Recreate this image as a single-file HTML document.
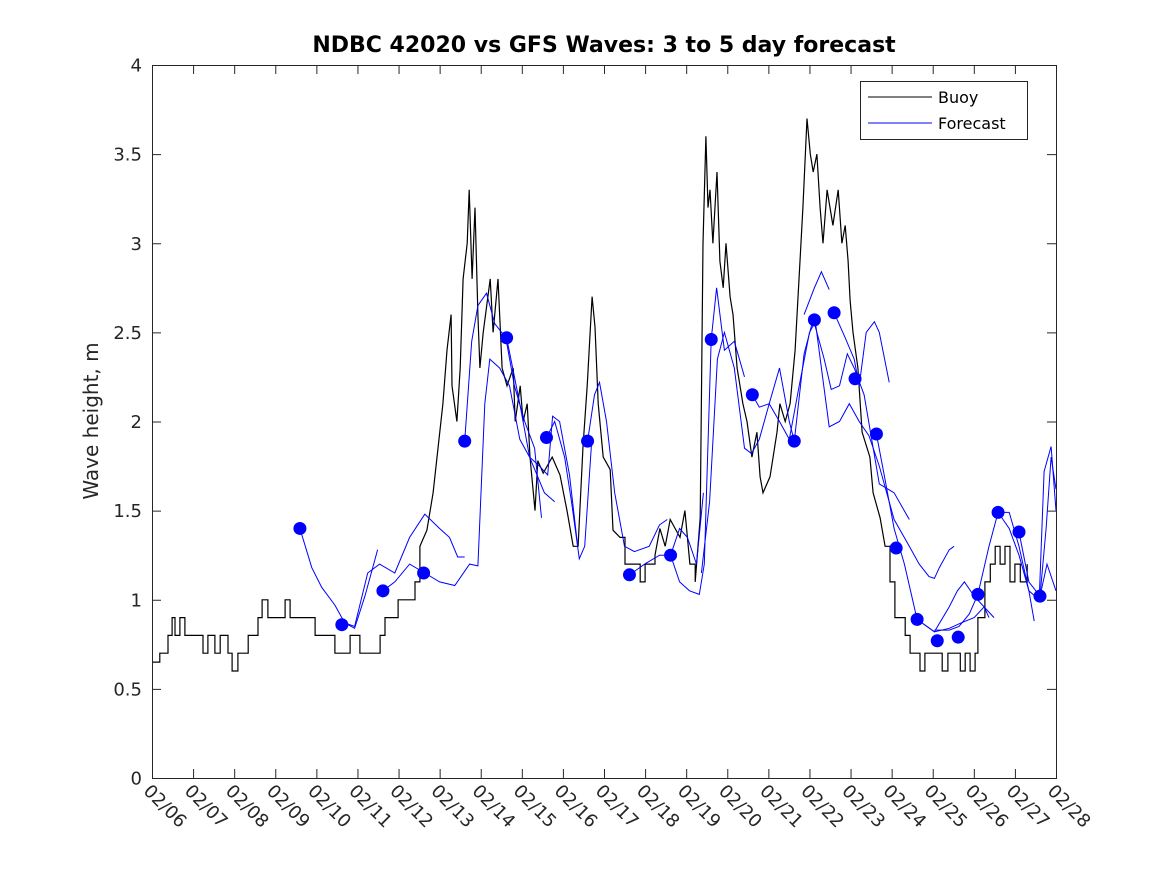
<!DOCTYPE html>
<html><head><meta charset="utf-8"><style>
html,body{margin:0;padding:0;background:#fff;}
svg{display:block;font-family:"DejaVu Sans","Liberation Sans",sans-serif;}
</style></head><body>
<svg id="chart" width="1167" height="875" viewBox="0 0 1167 875">
<defs><clipPath id="plotclip"><rect x="152" y="65" width="904" height="713"/></clipPath></defs>
<rect x="0" y="0" width="1167" height="875" fill="#fff"/>
<g id="series" clip-path="url(#plotclip)"></g>
<g id="markers"></g>
<g id="axes"></g>
<text x="604" y="52" text-anchor="middle" font-size="22" font-weight="bold" fill="#000">NDBC 42020 vs GFS Waves: 3 to 5 day forecast</text>
<text transform="translate(98,421) rotate(-90)" text-anchor="middle" font-size="20" fill="#262626">Wave height, m</text>
<g>
<rect x="860.5" y="81.5" width="167" height="58" fill="#fff" stroke="#262626" stroke-width="1"/>
<line x1="868" y1="97" x2="932" y2="97" stroke="#000"/>
<text x="938" y="103" font-size="16" fill="#000">Buoy</text>
<line x1="868" y1="123" x2="932" y2="123" stroke="#00f"/>
<text x="938" y="129" font-size="16" fill="#000">Forecast</text>
</g>
</svg>
<script>
const xTickLabels = ["02/06","02/07","02/08","02/09","02/10","02/11","02/12","02/13","02/14","02/15","02/16","02/17","02/18","02/19","02/20","02/21","02/22","02/23","02/24","02/25","02/26","02/27","02/28"];
const yTicks = [0,0.5,1,1.5,2,2.5,3,3.5,4];
const yTickLabels = ["0","0.5","1","1.5","2","2.5","3","3.5","4"];
const buoyDays = [0,0.19,0.19,0.32,0.39,0.49,0.56,0.68,0.80,1.17,1.24,1.36,1.53,1.66,1.85,1.95,2.09,2.26,2.34,2.58,2.68,2.82,3.24,3.36,3.85,3.97,4.33,4.45,4.70,4.82,5.06,5.43,5.55,5.67,5.84,5.99,6.28,6.40,6.52,6.69,6.84,7.08,7.18,7.28,7.30,7.42,7.50,7.57,7.67,7.72,7.79,7.86,7.93,7.98,8.06,8.23,8.30,8.42,8.52,8.64,8.79,8.84,8.96,9.03,9.13,9.20,9.32,9.39,9.52,9.74,9.93,10.10,10.25,10.37,10.49,10.59,10.71,10.78,10.86,10.98,11.15,11.22,11.39,11.51,11.75,11.88,12.00,12.24,12.36,12.49,12.61,12.85,12.97,13.09,13.22,13.34,13.41,13.48,13.53,13.58,13.65,13.75,13.82,13.90,13.97,14.07,14.14,14.24,14.31,14.38,14.48,14.60,14.72,14.80,14.87,15.04,15.21,15.28,15.41,15.53,15.65,15.77,15.84,15.94,16.02,16.09,16.18,16.26,16.33,16.43,16.50,16.57,16.70,16.79,16.87,16.94,16.99,17.06,17.18,17.28,17.47,17.55,17.72,17.84,17.96,18.08,18.33,18.45,18.64,18.69,18.81,19.18,19.23,19.37,19.67,19.79,19.91,20.03,20.10,20.27,20.40,20.52,20.64,20.76,20.88,21.00,21.13,21.30];
const buoyVals = [0.65,0.65,0.7,0.7,0.8,0.9,0.8,0.9,0.8,0.8,0.7,0.8,0.7,0.8,0.7,0.6,0.7,0.7,0.8,0.9,1.0,0.9,1.0,0.9,0.9,0.8,0.8,0.7,0.7,0.8,0.7,0.7,0.8,0.9,0.9,1.0,1.0,1.1,1.3,1.39,1.6,2.1,2.4,2.6,2.2,2.0,2.3,2.8,3.0,3.3,2.8,3.2,2.6,2.3,2.5,2.8,2.5,2.8,2.3,2.2,2.3,2.0,2.2,2.0,2.1,1.8,1.5,1.78,1.71,1.8,1.7,1.5,1.3,1.3,1.86,2.2,2.7,2.53,2.1,1.8,1.73,1.39,1.35,1.2,1.2,1.1,1.2,1.25,1.4,1.3,1.45,1.35,1.5,1.2,1.1,1.46,3.0,3.6,3.2,3.3,3.0,3.4,2.9,2.75,3.0,2.7,2.6,2.3,2.2,2.1,2.0,1.8,1.94,1.69,1.6,1.69,1.94,2.1,2.0,2.1,2.4,2.9,3.2,3.7,3.5,3.4,3.5,3.2,3.0,3.3,3.2,3.1,3.3,3.0,3.1,2.9,2.68,2.5,2.3,1.94,1.8,1.6,1.46,1.3,1.1,0.9,0.8,0.7,0.7,0.6,0.7,0.7,0.6,0.7,0.6,0.7,0.6,0.7,0.9,1.1,1.2,1.3,1.2,1.3,1.1,1.2,1.1,1.2];
const markerDays = [3.60,4.62,5.62,6.61,7.61,8.63,9.60,10.60,11.62,12.62,13.61,14.61,15.63,16.12,16.60,17.11,17.63,18.11,18.62,19.11,19.62,20.10,20.59,21.10,21.61];
const markerVals = [1.40,0.86,1.05,1.15,1.89,2.47,1.91,1.89,1.14,1.25,2.46,2.15,1.89,2.57,2.61,2.24,1.93,1.29,0.89,0.77,0.79,1.03,1.49,1.38,1.02];
const fcDays1=[3.60,3.89,4.13,4.45,4.69,4.93,5.18,5.49], fcVals1=[1.40,1.18,1.07,0.97,0.87,0.84,1.02,1.28];
const fcDays2=[4.69,4.93,5.25,5.54,5.91,6.27,6.64,7.00,7.24,7.44,7.61], fcVals2=[0.87,0.85,1.15,1.2,1.15,1.35,1.48,1.4,1.35,1.24,1.24];
const fcDays3=[5.62,5.91,6.27,6.64,7.00,7.37,7.73,7.93,8.10,8.22,8.46,8.70,8.95,9.19,9.55,9.80], fcVals3=[1.05,1.1,1.2,1.15,1.1,1.08,1.2,1.19,2.1,2.35,2.3,2.2,1.9,1.8,1.6,1.55];
const fcDays4=[7.61,7.78,7.93,8.14,8.34,8.61,8.82,9.07,9.31,9.48], fcVals4=[1.89,2.45,2.65,2.72,2.55,2.47,2.2,2.0,1.85,1.46];
const fcDays5=[9.60,9.80,10.04,10.21,10.40,10.53,10.70], fcVals5=[1.91,2.0,1.8,1.55,1.23,1.3,1.89];
const fcDays6=[8.63,8.95,9.19,9.43,9.63,9.75,9.92,10.16,10.36], fcVals6=[2.47,2.1,1.8,1.75,1.7,2.03,2.0,1.7,1.3];
const fcDays7=[10.60,10.77,10.89,11.06,11.26,11.50,11.74,12.10,12.35,12.54], fcVals7=[1.89,2.15,2.22,2.0,1.6,1.3,1.27,1.3,1.42,1.45];
const fcDays8=[11.62,11.99,12.35,12.62,12.84,13.03,13.25,13.42], fcVals8=[1.14,1.2,1.25,1.25,1.4,1.35,1.2,1.6];
const fcDays9=[12.62,12.84,13.08,13.32,13.44,13.61,13.74,13.93,14.17,14.42], fcVals9=[1.25,1.1,1.05,1.03,1.2,2.46,2.75,2.4,2.45,2.25];
const fcDays10=[13.37,13.57,13.76,13.93,14.17,14.42,14.59,14.78,15.02,15.27,15.51,15.63], fcVals10=[1.15,1.55,2.35,2.5,2.3,1.85,1.82,1.9,2.1,2.3,2.0,1.89];
const fcDays11=[14.61,14.78,15.02,15.27,15.51,15.75,16.00,16.12,16.36,16.53,16.73,16.92,17.09,17.33,17.70,18.06,18.43], fcVals11=[2.15,2.08,2.1,2.0,1.9,2.2,2.5,2.55,2.35,2.18,2.2,2.38,2.3,2.15,1.65,1.6,1.45];
const fcDays12=[15.63,15.87,16.12,16.29,16.48,16.73,16.97,17.21,17.45,17.70,18.06,18.43,18.67,18.91,19.04,19.16,19.40,19.52], fcVals12=[1.89,2.38,2.6,2.3,1.97,2.0,2.1,2.0,1.92,1.75,1.45,1.3,1.2,1.13,1.12,1.18,1.28,1.3];
const fcDays13=[15.87,16.12,16.29,16.48], fcVals13=[2.6,2.75,2.84,2.74];
const fcDays14=[16.60,16.85,17.09,17.21,17.38,17.58,17.70,17.94], fcVals14=[2.61,2.48,2.35,2.2,2.5,2.56,2.5,2.22];
const fcDays15=[17.63,17.82,18.06,18.31,18.62,18.86,19.04,19.40,19.69,20.01,20.25,20.37], fcVals15=[1.93,1.7,1.4,1.2,0.89,0.85,0.82,0.84,0.87,0.9,0.96,0.9];
const fcDays16=[18.62,19.04,19.40,19.60,19.77,20.01,20.25,20.49], fcVals16=[0.89,0.82,0.96,1.05,1.1,1.02,0.96,0.9];
const fcDays17=[19.04,19.40,19.64,19.89,20.10,20.37,20.59,20.86,21.10,21.34,21.47], fcVals17=[0.83,0.83,0.85,0.92,1.03,1.3,1.49,1.49,1.3,1.05,0.88];
const fcDays18=[20.59,20.86,21.10,21.34,21.59,21.71,21.88,22.0], fcVals18=[1.49,1.4,1.25,1.05,1.0,1.72,1.86,1.5];
const fcDays19=[21.10,21.34,21.61,21.76,21.88,22.0], fcVals19=[1.38,1.1,1.02,1.4,1.8,1.62];
const fcDays20=[21.61,21.78,22.0], fcVals20=[1.02,1.2,1.05];
const fcDaysAll=[fcDays1,fcDays2,fcDays3,fcDays4,fcDays5,fcDays6,fcDays7,fcDays8,fcDays9,fcDays10,fcDays11,fcDays12,fcDays13,fcDays14,fcDays15,fcDays16,fcDays17,fcDays18,fcDays19,fcDays20];
const fcValsAll=[fcVals1,fcVals2,fcVals3,fcVals4,fcVals5,fcVals6,fcVals7,fcVals8,fcVals9,fcVals10,fcVals11,fcVals12,fcVals13,fcVals14,fcVals15,fcVals16,fcVals17,fcVals18,fcVals19,fcVals20];

const X0=152,X1=1056,Y0=778,Y1=65,XMAX=22,YMAX=4;
function xs(d){return X0+(X1-X0)*d/XMAX;}
function ys(v){return Y0-(Y0-Y1)*v/YMAX;}
const NS="http://www.w3.org/2000/svg";
function mk(tag,attrs,parent){const e=document.createElementNS(NS,tag);for(const k in attrs)e.setAttribute(k,attrs[k]);parent.appendChild(e);return e;}
const series=document.getElementById('series'),markers=document.getElementById('markers'),axes=document.getElementById('axes');

let d="M"+xs(buoyDays[0]).toFixed(1)+","+ys(buoyVals[0]).toFixed(1);
for(let i=1;i<buoyDays.length;i++){
  const x=xs(buoyDays[i]).toFixed(1);
  if(buoyVals[i-1]<=1.35 && buoyVals[i]<=1.35){d+=" L"+x+","+ys(buoyVals[i-1]).toFixed(1);}
  d+=" L"+x+","+ys(buoyVals[i]).toFixed(1);
}
const bl=mk('path',{d:d,fill:'none',stroke:'#000','stroke-width':1.2},series);



fcDaysAll.forEach((days,k)=>{
  const vals=fcValsAll[k];
  const pts=days.map((t,i)=>xs(t).toFixed(1)+","+ys(vals[i]).toFixed(1)).join(" ");
  const pl=mk('polyline',{points:pts,fill:'none',stroke:'#00f','stroke-width':1},series);
  
  
});
markerDays.forEach((t,i)=>{
  const c=mk('circle',{cx:xs(t),cy:ys(markerVals[i]),r:6.5,fill:'#00f'},markers);
  
  
});

const box=mk('rect',{x:X0+0.5,y:Y1+0.5,width:X1-X0,height:Y0-Y1,fill:'none',stroke:'#262626','stroke-width':1},axes);


xTickLabels.forEach((lab,i)=>{
  const x=xs(i)+0.5;
  mk('line',{x1:x,y1:Y0,x2:x,y2:Y0-9,stroke:'#262626'},axes);
  mk('line',{x1:x,y1:Y1,x2:x,y2:Y1+9,stroke:'#262626'},axes);
  const t=mk('text',{transform:'translate('+(x-10)+','+(Y0+14)+') rotate(45)','font-size':18,fill:'#262626'},axes);
  t.textContent=lab;
  
  
});
yTicks.forEach((v,i)=>{
  const y=ys(v)+0.5;
  mk('line',{x1:X0,y1:y,x2:X0+9,y2:y,stroke:'#262626'},axes);
  mk('line',{x1:X1,y1:y,x2:X1-9,y2:y,stroke:'#262626'},axes);
  const t=mk('text',{x:X0-10,y:y+6,'text-anchor':'end','font-size':18,fill:'#262626'},axes);
  t.textContent=yTickLabels[i];
  
  
});
</script>
</body></html>
